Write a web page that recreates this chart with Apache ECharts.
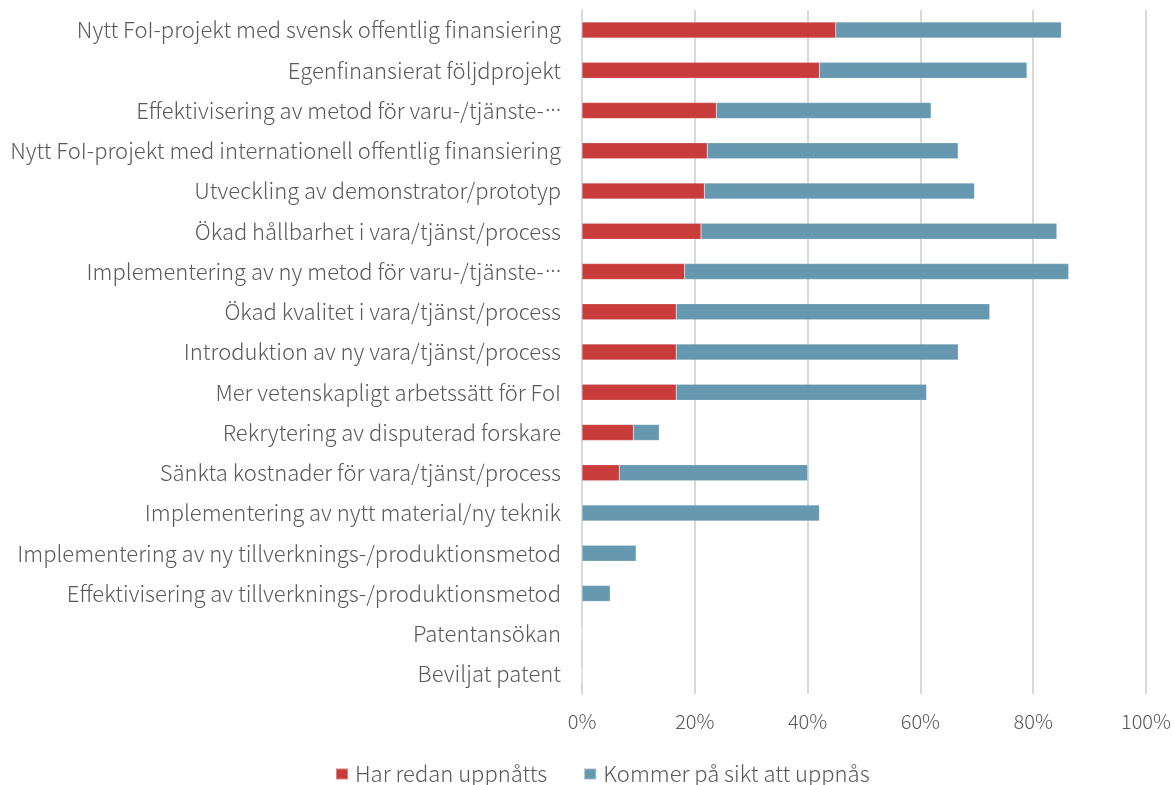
<!DOCTYPE html>
<html>
<head>
<meta charset="utf-8">
<script src="https://cdn.jsdelivr.net/npm/echarts@6/dist/echarts.min.js"></script>
<style>
  html, body { margin: 0; padding: 0; background: #fff; }
  #chart { width: 1174px; height: 785px; }
</style>
</head>
<body>
<div id="chart"></div>
<script>
// categories, top to bottom as in the picture
const categories = [
  'Nytt FoI-projekt med svensk offentlig finansiering',
  'Egenfinansierat följdprojekt',
  'Effektivisering av metod för varu-/tjänste-…',
  'Nytt FoI-projekt med internationell offentlig finansiering',
  'Utveckling av demonstrator/prototyp',
  'Ökad hållbarhet i vara/tjänst/process',
  'Implementering av ny metod för varu-/tjänste-…',
  'Ökad kvalitet i vara/tjänst/process',
  'Introduktion av ny vara/tjänst/process',
  'Mer vetenskapligt arbetssätt för FoI',
  'Rekrytering av disputerad forskare',
  'Sänkta kostnader för vara/tjänst/process',
  'Implementering av nytt material/ny teknik',
  'Implementering av ny tillverknings-/produktionsmetod',
  'Effektivisering av tillverknings-/produktionsmetod',
  'Patentansökan',
  'Beviljat patent'
];

const redanUppnatts = [45.0, 42.1, 23.8, 22.2, 21.7, 21.1, 18.2, 16.7, 16.7, 16.7, 9.1, 6.6, 0, 0, 0, 0, 0];
const kommerUppnas  = [40.0, 36.8, 38.1, 44.5, 47.9, 63.1, 68.1, 55.6, 50.0, 44.4, 4.6, 33.4, 42.1, 9.6, 5.0, 0, 0];

const seriesNames = ['Har redan uppnåtts', 'Kommer på sikt att uppnås'];

const COLORS = {
  RED: '#C83C3C',
  BLUE: '#6699B0',
  TEXT: '#595959',
  GRID: '#D9D9D9'
};
const FONT = '"Noto Sans CJK JP", "Noto Sans", sans-serif';

const chart = echarts.init(document.getElementById('chart'), null, { renderer: 'canvas' });

chart.setOption({
  animation: false,
  textStyle: { fontFamily: FONT },
  grid: { left: 582, right: 28, top: 10, bottom: 91, containLabel: false },
  legend: {
    data: seriesNames,
    left: 335,
    top: 763,
    padding: 0,
    itemWidth: 12,
    itemHeight: 11,
    itemGap: 36,
    icon: 'rect',
    textStyle: {
      color: COLORS.TEXT, fontSize: 22, lineHeight: 22, fontWeight: 300,
      fontFamily: FONT, padding: [0, 0, 0, 2]
    }
  },
  xAxis: {
    type: 'value',
    min: 0,
    max: 100,
    interval: 20,
    axisLabel: {
      formatter: '{value}%',
      color: COLORS.TEXT,
      fontSize: 20,
      fontWeight: 300,
      margin: 17,
      fontFamily: FONT
    },
    axisLine: { show: false },
    axisTick: { show: false },
    splitLine: { lineStyle: { color: COLORS.GRID, width: 2 } }
  },
  yAxis: {
    type: 'category',
    inverse: true,
    data: categories,
    axisLine: { show: true, lineStyle: { color: COLORS.GRID, width: 2 } },
    axisTick: { show: false },
    axisLabel: {
      color: COLORS.TEXT,
      fontSize: 22,
      fontWeight: 300,
      margin: 21,
      fontFamily: FONT,
      // Excel draws the truncation ellipsis as mid-height dots
      formatter: (v) => v.replace('…', '{d|···}'),
      rich: {
        d: { fontFamily: '"Noto Sans", sans-serif', fontSize: 22, color: COLORS.TEXT, padding: [0, 0, 0, 1] }
      }
    }
  },
  series: [
    {
      name: seriesNames[0],
      type: 'bar',
      stack: 'total',
      barWidth: 16,
      data: redanUppnatts,
      itemStyle: { color: COLORS.RED, borderColor: 'rgba(255,255,255,0.35)', borderWidth: 0.5 }
    },
    {
      name: seriesNames[1],
      type: 'bar',
      stack: 'total',
      barWidth: 16,
      data: kommerUppnas,
      itemStyle: { color: COLORS.BLUE, borderColor: 'rgba(255,255,255,0.35)', borderWidth: 0.5 }
    }
  ]
});
</script>
</body>
</html>
